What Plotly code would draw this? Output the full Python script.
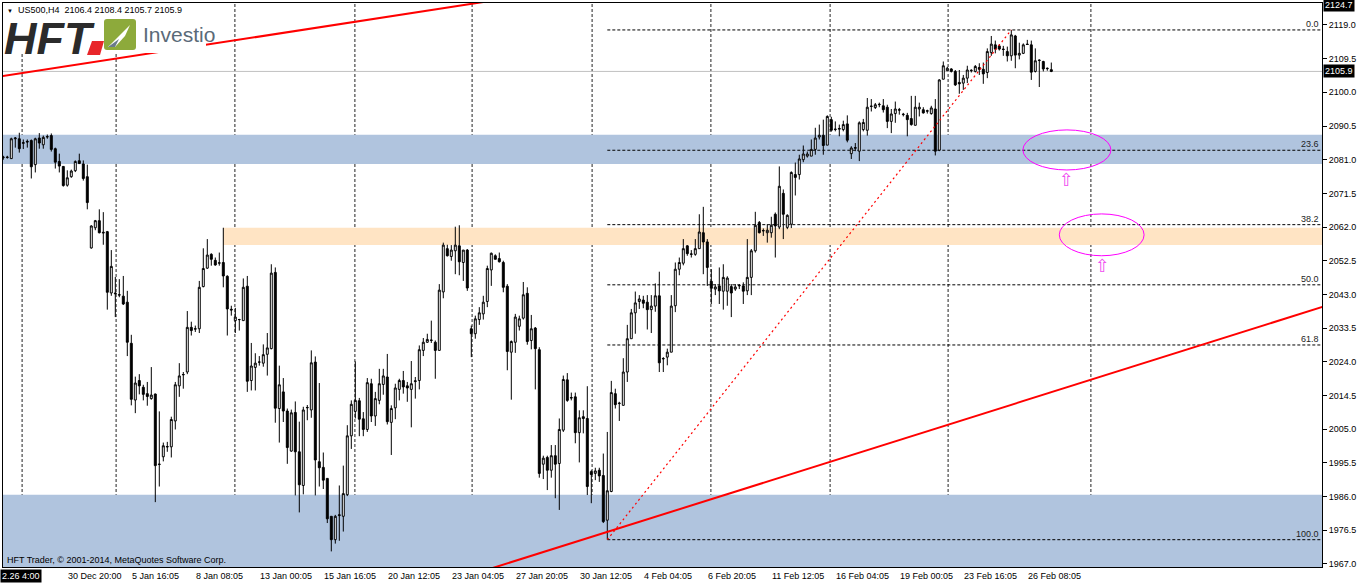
import plotly.graph_objects as go

# ---------------- data (US500, H4) ----------------
opens = [2081.6,2081.6,2081.3,2086.9,2086.9,2085.6,2086.2,2086.4,2079.6,2087.1,
2085.2,2087.4,2087.8,2084.1,2080.5,2079.1,2073.8,2076.2,2077.9,2080.7,
2079.8,2076.2,2056.1,2061.8,2063.8,2060.3,2060.7,2043.4,2043.4,2042.8,
2042.5,2040.8,2029.2,2013.2,2018.7,2016.8,2015.0,2013.6,2014.9,1995.0,
1997.2,2000.1,2000.0,2007.3,2017.2,2020.3,2021.1,2033.7,2033.2,2033.3,
2045.2,2050.4,2054.3,2052.6,2051.8,2052.0,2048.1,2038.8,2035.6,2035.9,
2035.6,2045.3,2018.7,2022.4,2023.9,2023.6,2026.1,2027.7,2049.2,2010.8,
2015.5,2010.1,1998.8,2009.7,1998.6,1989.1,2011.0,2010.4,2023.9,1995.8,
1994.2,1991.1,1980.4,1973.8,1980.6,1980.4,1986.5,2003.1,2010.0,2013.0,
2007.9,2004.9,2017.8,2008.7,2013.1,2017.6,2019.7,2006.9,2011.0,2016.2,
2018.7,2017.2,2016.2,2018.4,2018.7,2027.2,2029.5,2030.0,2029.5,2027.2,
2043.7,2055.9,2053.7,2055.3,2056.7,2052.0,2055.5,2033.3,2031.9,2035.9,
2037.5,2041.0,2049.9,2053.9,2053.1,2052.0,2045.3,2026.7,2029.5,2034.0,
2036.3,2043.3,2030.0,2033.5,2027.4,1995.1,1997.0,1993.4,1997.5,1995.3,
2004.7,2018.9,2013.9,2014.1,2004.0,2008.5,2008.0,1993.0,1992.5,1993.4,
1991.9,1979.3,1987.4,2015.0,2012.2,2011.7,2021.1,2030.5,2037.8,2041.0,
2041.4,2040.8,2038.7,2039.7,2042.6,2024.8,2025.3,2026.7,2039.8,2050.1,
2051.8,2056.7,2054.3,2054.3,2055.9,2060.4,2057.8,2046.7,2044.5,2045.4,
2043.9,2043.9,2045.2,2044.5,2045.4,2045.4,2044.0,2047.8,2055.3,2063.3,
2060.9,2060.4,2060.4,2065.6,2062.0,2071.5,2061.9,2062.8,2076.8,2076.8,
2081.0,2082.0,2082.0,2083.9,2087.4,2087.9,2085.1,2092.3,2089.5,2089.6,
2089.5,2091.1,2082.7,2084.2,2083.4,2089.5,2089.3,2096.0,2095.7,2096.5,
2096.2,2095.8,2091.8,2094.0,2095.1,2093.7,2093.5,2092.6,2090.7,2095.3,
2095.1,2094.8,2094.0,2095.3,2083.7,2103.7,2106.1,2106.6,2105.9,2102.8,
2102.6,2104.0,2106.1,2105.9,2107.0,2106.5,2105.6,2111.2,2113.4,2113.1,
2112.2,2111.5,2110.3,2115.9,2110.5,2111.0,2113.6,2113.4,2105.9,2109.1,
2108.7,2106.8,2106.4]

highs = [2082.1,2082.1,2087.2,2087.4,2088.6,2086.7,2086.7,2086.7,2087.2,2088.5,
2087.8,2088.1,2088.4,2084.4,2082.7,2079.2,2078.0,2078.2,2080.8,2082.7,
2080.8,2079.6,2062.5,2064.0,2067.0,2066.2,2060.9,2055.5,2047.9,2047.3,
2048.2,2044.0,2031.6,2019.8,2020.5,2017.5,2018.3,2022.5,2015.0,2010.0,
2001.2,2001.4,2008.5,2018.3,2023.6,2021.1,2038.3,2035.3,2034.2,2046.8,
2056.0,2058.6,2054.6,2053.4,2054.8,2061.8,2048.4,2039.8,2039.2,2036.1,
2047.5,2048.2,2029.3,2026.4,2025.6,2028.9,2032.1,2051.5,2050.6,2022.9,
2019.4,2010.8,2010.5,2012.8,2007.1,2011.3,2011.8,2027.2,2025.5,2018.0,
1998.4,1991.1,1980.4,1980.8,1989.1,1994.7,2006.1,2013.1,2024.1,2013.8,
2009.8,2019.4,2019.2,2015.5,2022.0,2022.0,2026.2,2011.7,2017.8,2019.2,
2021.4,2018.3,2024.2,2019.7,2028.6,2030.7,2031.9,2035.6,2030.0,2045.9,
2057.6,2057.0,2056.9,2062.1,2062.5,2055.5,2055.8,2034.2,2037.0,2039.4,
2042.6,2051.1,2054.8,2054.3,2054.8,2052.5,2045.9,2030.0,2037.5,2037.0,
2046.5,2045.0,2037.2,2033.8,2028.1,1997.5,1997.5,2000.5,2000.5,2008.0,
2020.1,2020.8,2015.3,2015.3,2010.3,2010.3,2017.1,1993.4,1994.1,1994.1,
1998.1,2004.2,2018.6,2016.4,2012.7,2025.0,2034.4,2038.9,2043.8,2042.8,
2042.6,2042.8,2042.8,2046.1,2049.4,2025.3,2027.7,2042.8,2052.0,2053.4,
2058.6,2056.9,2055.5,2058.6,2065.6,2067.7,2058.6,2050.1,2045.9,2050.6,
2051.5,2048.1,2045.9,2045.9,2045.9,2046.4,2058.6,2055.8,2066.3,2063.7,
2061.6,2062.8,2064.9,2066.1,2079.1,2072.6,2065.6,2077.7,2080.2,2082.4,
2085.0,2083.3,2086.7,2090.0,2090.9,2092.3,2093.5,2093.1,2091.8,2090.9,
2092.0,2093.5,2084.8,2085.7,2091.8,2092.5,2098.4,2098.1,2097.0,2097.1,
2098.1,2096.5,2095.3,2097.4,2095.6,2094.2,2094.2,2099.0,2099.0,2097.1,
2095.8,2095.1,2096.2,2098.1,2103.7,2108.7,2107.2,2106.8,2106.3,2106.3,
2104.9,2107.5,2106.5,2107.7,2108.2,2108.4,2112.4,2115.9,2114.6,2113.6,
2113.1,2112.9,2117.6,2116.2,2114.0,2113.8,2114.8,2114.6,2112.4,2109.3,
2108.9,2107.0,2108.4]

lows = [2081.0,2081.3,2081.2,2084.4,2083.0,2084.0,2084.4,2075.7,2077.4,2084.1,
2084.1,2086.9,2083.3,2078.5,2077.4,2073.4,2073.4,2075.9,2077.5,2079.8,
2075.1,2067.0,2055.9,2061.1,2060.2,2057.0,2038.7,2042.6,2036.6,2042.2,
2040.0,2025.6,2011.7,2009.5,2014.8,2013.1,2011.6,2013.3,1984.4,1988.8,
1995.9,1998.6,1997.0,2004.9,2014.1,2016.4,2020.5,2031.4,2032.4,2032.1,
2045.0,2050.2,2051.1,2051.1,2051.1,2045.0,2031.4,2037.0,2032.1,2032.8,
2035.6,2015.5,2015.9,2015.9,2022.9,2022.6,2020.1,2027.5,2006.8,2001.2,
2007.0,1995.2,1998.6,1986.3,1981.5,1986.6,2007.5,2008.2,1986.3,1988.8,
1988.1,1978.5,1970.5,1972.7,1973.5,1976.1,1986.1,1999.4,2008.0,2003.0,
2003.0,2004.2,2007.0,2005.9,2012.0,2014.7,2006.3,1997.7,2007.8,2013.1,
2015.0,2012.7,2005.5,2013.6,2016.2,2025.6,2029.3,2029.3,2019.2,2027.2,
2041.9,2053.7,2052.5,2048.7,2048.4,2046.8,2044.0,2025.3,2030.5,2034.4,
2035.9,2039.4,2045.4,2052.9,2052.0,2043.6,2021.6,2013.3,2026.5,2032.8,
2035.9,2028.8,2027.5,2016.2,1991.3,1990.9,1987.8,1991.3,1985.5,1982.2,
2004.2,2012.7,2013.1,2001.0,1995.6,2003.8,1986.4,1984.1,1990.6,1990.1,
1978.5,1973.8,1987.2,2010.8,2007.3,2011.7,2018.3,2030.5,2031.9,2038.9,
2039.1,2033.1,2032.1,2038.1,2021.1,2021.1,2023.0,2026.7,2038.0,2048.4,
2051.2,2053.9,2053.4,2053.9,2055.9,2048.7,2045.4,2040.3,2042.8,2040.3,
2038.7,2039.8,2036.6,2044.0,2044.5,2040.3,2042.8,2042.8,2054.8,2060.2,
2059.5,2057.6,2059.0,2053.4,2061.4,2058.6,2061.4,2061.7,2070.9,2075.4,
2080.3,2081.6,2082.0,2082.4,2086.7,2082.4,2085.3,2088.9,2089.0,2087.6,
2089.0,2085.9,2081.2,2083.4,2080.6,2089.0,2087.8,2094.6,2095.3,2095.8,
2094.3,2089.9,2088.5,2091.4,2093.7,2093.2,2087.6,2090.6,2090.7,2093.2,
2094.0,2094.0,2093.7,2082.2,2083.4,2103.7,2106.0,2105.6,2101.8,2099.6,
2100.7,2102.6,2105.6,2105.6,2104.9,2102.4,2104.0,2110.3,2111.0,2111.8,
2110.3,2108.7,2108.9,2106.8,2109.3,2110.8,2113.4,2103.5,2105.6,2101.5,
2105.9,2106.1,2105.7]

closes = [2081.7,2081.7,2086.9,2087.1,2084.1,2085.8,2086.0,2079.0,2086.9,2085.7,
2087.3,2087.5,2083.9,2080.3,2079.2,2073.7,2075.9,2077.8,2080.5,2079.9,
2075.7,2068.9,2062.3,2063.8,2060.4,2060.5,2043.6,2050.9,2043.2,2042.9,
2040.3,2029.5,2013.4,2018.0,2017.2,2014.8,2014.2,2014.6,1994.7,1995.1,
2000.3,2000.0,2007.7,2017.5,2020.0,2020.4,2033.7,2032.8,2033.3,2045.0,
2050.3,2054.1,2052.9,2051.3,2051.9,2048.2,2038.9,2038.6,2036.6,2035.9,
2045.0,2018.5,2022.8,2023.6,2023.9,2026.0,2027.9,2049.0,2010.9,2017.5,
2010.1,1999.8,2009.6,1998.6,1989.3,2010.4,2011.1,2023.7,1996.3,1994.1,
1990.6,1979.7,1973.8,1980.4,1980.8,1986.8,2003.1,2012.0,2013.1,2007.8,
2004.9,2018.1,2008.7,2013.6,2017.8,2020.0,2007.1,2010.8,2016.6,2018.7,
2016.9,2016.6,2017.8,2018.6,2027.4,2029.5,2030.3,2030.1,2027.2,2044.2,
2056.9,2053.9,2055.5,2056.9,2052.2,2055.5,2044.8,2031.9,2036.1,2037.8,
2040.8,2050.3,2054.6,2052.9,2052.2,2045.0,2026.9,2029.7,2036.6,2036.1,
2042.9,2029.7,2033.3,2027.7,1992.5,1996.8,1993.4,1997.5,1995.1,2004.9,
2019.0,2013.1,2013.8,2004.0,2008.2,2008.0,1988.8,1992.2,1993.2,1991.8,
1978.9,1987.6,2015.3,2011.9,2012.3,2021.1,2030.5,2037.8,2040.6,2041.7,
2040.5,2038.7,2039.7,2042.6,2023.7,2024.9,2026.7,2039.7,2050.1,2052.0,
2055.9,2054.5,2054.4,2055.9,2060.6,2057.8,2050.6,2044.7,2045.1,2044.0,
2047.8,2047.6,2043.4,2045.1,2045.5,2043.9,2047.8,2055.3,2062.5,2060.4,
2061.0,2061.1,2062.5,2062.3,2073.5,2065.6,2065.3,2077.4,2076.0,2081.2,
2082.6,2082.6,2083.9,2087.1,2087.9,2085.0,2093.2,2089.3,2089.6,2089.8,
2090.9,2086.5,2084.3,2084.4,2091.4,2091.5,2095.8,2096.1,2096.5,2096.6,
2095.1,2091.8,2093.9,2095.3,2095.0,2093.8,2092.3,2090.9,2095.8,2095.8,
2094.2,2094.7,2095.6,2083.4,2103.5,2107.5,2106.8,2105.9,2102.1,2102.4,
2104.0,2106.3,2106.2,2107.3,2106.5,2105.2,2111.5,2113.6,2112.2,2112.2,
2112.1,2110.3,2116.2,2110.5,2111.0,2113.4,2113.5,2105.7,2108.9,2109.0,
2106.6,2106.7,2105.9]

bars = list(range(len(opens)))
highs = [max(h, o, c) for h, o, c in zip(highs, opens, closes)]
lows = [min(l, o, c) for l, o, c in zip(lows, opens, closes)]

date_label_bars = [0, 16, 32, 48, 64, 80, 96, 112, 128, 144, 160, 176, 192, 208, 224, 240, 256]
date_labels = ["26 Dec 2014", "30 Dec 20:00", "5 Jan 16:05", "8 Jan 08:05", "13 Jan 00:05",
               "15 Jan 16:05", "20 Jan 12:05", "23 Jan 04:05", "27 Jan 20:05", "30 Jan 12:05",
               "4 Feb 04:05", "6 Feb 20:05", "11 Feb 12:05", "16 Feb 04:05", "19 Feb 00:05",
               "23 Feb 16:05", "26 Feb 08:05"]
price_ticks = [2119.0, 2109.5, 2100.0, 2090.5, 2081.0, 2071.5, 2062.0, 2052.5, 2043.0,
               2033.5, 2024.0, 2014.5, 2005.0, 1995.5, 1986.0, 1976.5, 1967.0]
week_separator_bars = [4.7, 28.2, 57.9, 87.9, 117.2, 147.2, 176.9, 206.7, 236.2, 271.9]

zone_blue_top = [2079.8, 2088.0]
zone_blue_bottom = [1950.0, 1986.5]
zone_orange = [2056.9, 2061.8]
zone_orange_start_bar = 55

fibo_bars = [151, 252]
fibo_prices = [1973.8, 2117.6]
fibo_levels = [0.0, 23.6, 38.2, 50.0, 61.8, 100.0]

upper_trend_bars = [0, 100]
upper_trend_prices = [2104.6, 2122.0]
lower_trend_bars = [151, 300]
lower_trend_prices = [1976.0, 2028.9]

ellipse_bars = [265.9, 274.6]
ellipse_prices = [2083.75, 2059.8]
ellipse_half_bars = [11.0, 10.6]
ellipse_half_prices = [5.65, 5.9]
arrow_prices = [2075.3, 2051.1]
arrow_bars = [265.9, 274.9]

chart_max = 2124.7
title_text = "US500,H4  2106.4 2108.4 2105.7 2105.9"

# ---------------- layout geometry ----------------
W, H = 1362, 586
PL, PT, PW, PH = 3, 3, 1319, 564
X0 = -0.075
X1 = X0 + PW / 4.0
Y0, Y1 = 1966.1, 2125.2


def fx(px):
    return (px - PL) / PW


def fy(py):
    return (PT + PH - py) / PH


FONT = "Liberation Sans"

fig = go.Figure()

fig.add_trace(go.Candlestick(
    x=bars, open=opens, high=highs, low=lows, close=closes,
    increasing=dict(line=dict(color="black", width=1), fillcolor="white"),
    decreasing=dict(line=dict(color="black", width=1), fillcolor="black"),
    whiskerwidth=0, hoverinfo="skip", showlegend=False))


def line_through(bx, py, xa, xb):
    s = (py[1] - py[0]) / (bx[1] - bx[0])
    return [xa, xb], [py[0] + s * (xa - bx[0]), py[0] + s * (xb - bx[0])]


# fibo dotted base line
fig.add_trace(go.Scatter(x=fibo_bars, y=fibo_prices, mode="lines",
                         line=dict(color="#FF0000", width=1.2, dash="2px,3px"),
                         hoverinfo="skip", showlegend=False))

ux, uy = line_through(upper_trend_bars, upper_trend_prices, X0 - 5, X1 + 5)
fig.add_trace(go.Scatter(x=ux, y=uy, mode="lines", line=dict(color="#FF0000", width=2),
                         hoverinfo="skip", showlegend=False))
lx, ly = line_through(lower_trend_bars, lower_trend_prices, 100, X1 + 5)
fig.add_trace(go.Scatter(x=lx, y=ly, mode="lines", line=dict(color="#FF0000", width=2),
                         hoverinfo="skip", showlegend=False))

shapes = []
# zones
shapes.append(dict(type="rect", xref="x", yref="y", x0=X0 - 5, x1=X1 + 5,
                   y0=zone_blue_top[0], y1=zone_blue_top[1],
                   fillcolor="#B0C4DE", line_width=0, layer="below"))
shapes.append(dict(type="rect", xref="x", yref="y", x0=X0 - 5, x1=X1 + 5,
                   y0=zone_blue_bottom[0], y1=zone_blue_bottom[1],
                   fillcolor="#B0C4DE", line_width=0, layer="below"))
shapes.append(dict(type="rect", xref="x", yref="y", x0=zone_orange_start_bar, x1=X1 + 5,
                   y0=zone_orange[0], y1=zone_orange[1],
                   fillcolor="#FFE4C4", line_width=0, layer="below"))
# week separators
for b in week_separator_bars:
    shapes.append(dict(type="line", xref="x", yref="paper", x0=b, x1=b, y0=0, y1=1,
                       line=dict(color="#222222", width=1, dash="3px,2px"), layer="below"))
# current price line
shapes.append(dict(type="line", xref="paper", yref="y", x0=0, x1=1,
                   y0=closes[-1], y1=closes[-1],
                   line=dict(color="#C0C0C0", width=1), layer="below"))
# fibo levels
fib_rng = fibo_prices[1] - fibo_prices[0]
for lv in fibo_levels:
    p = fibo_prices[1] - fib_rng * lv / 100.0
    shapes.append(dict(type="line", xref="x", yref="y", x0=fibo_bars[0], x1=X1,
                       y0=p, y1=p, line=dict(color="black", width=1, dash="3px,2px"),
                       layer="below"))
# ellipses
for cx, cy, hx, hy in zip(ellipse_bars, ellipse_prices, ellipse_half_bars, ellipse_half_prices):
    shapes.append(dict(type="circle", xref="x", yref="y", x0=cx - hx, x1=cx + hx,
                       y0=cy - hy, y1=cy + hy, line=dict(color="#FF00FF", width=1),
                       layer="above"))
# logo backing and graphics
shapes.append(dict(type="rect", xref="paper", yref="paper", x0=fx(5), x1=fx(206),
                   y0=fy(53), y1=fy(4), fillcolor="white", line_width=0, layer="above"))
shapes.append(dict(type="path", xref="paper", yref="paper",
                   path=f"M {fx(87)},{fy(55)} L {fx(92)},{fy(41)} L {fx(104)},{fy(41)} L {fx(100)},{fy(55)} Z",
                   fillcolor="#E8262A", line_width=0, layer="above"))
shapes.append(dict(type="path", xref="paper", yref="paper",
                   path=(f"M {fx(107)},{fy(19)} L {fx(133)},{fy(19)} Q {fx(136)},{fy(19)} {fx(136)},{fy(22)} "
                         f"L {fx(136)},{fy(47)} Q {fx(136)},{fy(50)} {fx(133)},{fy(50)} L {fx(107)},{fy(50)} "
                         f"Q {fx(104)},{fy(50)} {fx(104)},{fy(47)} L {fx(104)},{fy(22)} Q {fx(104)},{fy(19)} {fx(107)},{fy(19)} Z"),
                   fillcolor="#8DAA3B", line_width=0, layer="above"))
shapes.append(dict(type="path", xref="paper", yref="paper",
                   path=f"M {fx(108)},{fy(47)} L {fx(130)},{fy(25)} L {fx(125)},{fy(36)} L {fx(115)},{fy(47)} Z",
                   fillcolor="white", line_width=0, layer="above"))
shapes.append(dict(type="path", xref="paper", yref="paper",
                   path=f"M {fx(108)},{fy(47)} L {fx(119)},{fy(39)} L {fx(115)},{fy(47)} Z",
                   fillcolor="#6A7B8A", line_width=0, layer="above"))

ann = []
small = dict(family=FONT, size=9, color="black")
# logo text (drawn first so the title sits on top)
ann.append(dict(x=fx(2), xref="paper", y=fy(39), yref="paper", text="HFT", showarrow=False,
                xanchor="left", yanchor="middle",
                font=dict(family=FONT, size=45, color="#2B2B2B", weight="bold", style="italic")))
ann.append(dict(x=fx(141), xref="paper", y=fy(34), yref="paper", text="Investio", showarrow=False,
                xanchor="left", yanchor="middle",
                font=dict(family=FONT, size=21, color="#5A6A78")))
# date labels
for b, t in zip(date_label_bars, date_labels):
    ann.append(dict(x=b - 0.35, xref="x", y=0, yref="paper", text=t, showarrow=False,
                    xanchor="left", yanchor="top", yshift=-2, font=small))
ann.append(dict(x=fx(0), xref="paper", y=0, yref="paper", text="2.26 4:00", showarrow=False,
                xanchor="left", yanchor="top", yshift=-2, bgcolor="black",
                font=dict(family=FONT, size=9, color="white")))
# fibo labels
for lv in fibo_levels:
    p = fibo_prices[1] - fib_rng * lv / 100.0
    ann.append(dict(x=X1, xref="x", y=p, yref="y", text=f"{lv:.1f}", showarrow=False,
                    xanchor="right", yanchor="middle", yshift=6, xshift=-1,
                    font=dict(family=FONT, size=9, color="#222222")))
# arrows under ellipses
for ab, ap in zip(arrow_bars, arrow_prices):
    ann.append(dict(x=ab, xref="x", y=ap, yref="y", text="\u21e7", showarrow=False,
                    font=dict(family="DejaVu Sans", size=18, color="#F050F0")))
# price boxes on the right axis
ann.append(dict(x=1, xref="paper", y=closes[-1], yref="y", text=f"{closes[-1]:.1f}",
                showarrow=False, xanchor="left", yanchor="middle", xshift=1,
                bgcolor="black", borderpad=1, font=dict(family=FONT, size=9, color="white")))
ann.append(dict(x=1, xref="paper", y=chart_max, yref="y", text=f"{chart_max:.1f}",
                showarrow=False, xanchor="left", yanchor="middle", xshift=1,
                bgcolor="black", borderpad=1, font=dict(family=FONT, size=9, color="white")))
# title line
ann.append(dict(x=fx(5), xref="paper", y=fy(10), yref="paper",
                text="<span style='font-size:6px'>\u25bc</span>  " + title_text, showarrow=False,
                xanchor="left", yanchor="middle", font=dict(family=FONT + ", DejaVu Sans", size=9, color="black")))
# copyright
ann.append(dict(x=fx(5), xref="paper", y=fy(560), yref="paper",
                text="HFT Trader, \u00a9 2001-2014, MetaQuotes Software Corp.", showarrow=False,
                xanchor="left", yanchor="middle", font=small))

fig.update_layout(
    width=W, height=H,
    margin=dict(l=PL, r=W - PL - PW, t=PT, b=H - PT - PH, autoexpand=False),
    paper_bgcolor="white", plot_bgcolor="white",
    shapes=shapes, annotations=ann, showlegend=False,
    xaxis=dict(range=[X0, X1], showgrid=False, zeroline=False, showticklabels=False,
               showline=True, mirror=True, linecolor="black", linewidth=1, automargin=False,
               rangeslider=dict(visible=False), fixedrange=True),
    yaxis=dict(range=[Y0, Y1], side="right", showgrid=False, zeroline=False,
               tickvals=price_ticks, ticktext=[f"{v:.1f}" for v in price_ticks],
               ticks="outside", ticklen=4, tickcolor="black", automargin=False,
               tickfont=dict(family=FONT, size=9, color="black"),
               showline=True, mirror=True, linecolor="black", linewidth=1, fixedrange=True),
)

fig.write_html("out.html", config={"displayModeBar": False},
               post_script="document.body.style.margin='0';document.body.style.overflow='hidden';")
